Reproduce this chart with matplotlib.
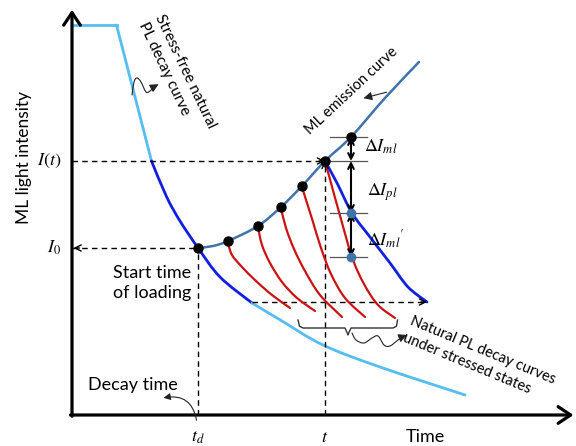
import matplotlib
matplotlib.use("Agg")
import matplotlib.pyplot as plt
from matplotlib.path import Path
from matplotlib.patches import PathPatch
import numpy as np

plt.rcParams['mathtext.fontset'] = 'stix'

# ---------------- data (arbitrary units: time, intensity) ----------------
# stress-free natural PL decay curve
decay_t = [0.0, 8.9, 12.4, 15.9, 18.9, 21.6, 25.2, 29.6, 36.0, 41.6, 50.2, 61.6, 78.6]
decay_I = [97.5, 97.5, 80.5, 63.5, 54.6, 48.5, 41.8, 34.5, 28.0, 23.8, 17.5, 12.0, 5.0]
dark_start, dark_end = 3, 8          # indices of the darker (observed) section

# ML emission curve
ml_t = [25.2, 28.2, 31.2, 37.2, 41.8, 46.0, 50.6, 55.8, 62.6, 69.4]
ml_I = [41.75, 42.25, 43.5, 47.25, 52.0, 57.25, 63.5, 69.5, 79.25, 88.25]
ml_dots = [0, 2, 3, 4, 5, 6, 7]      # indices with black markers

# natural PL decay curves under stressed states (red)
red_t = [
    [31.2, 32.0, 34.0, 36.8, 40.0, 43.6],
    [37.2, 38.0, 39.6, 42.0, 45.0, 48.6],
    [41.8, 42.8, 44.4, 46.6, 49.6, 54.0],
    [46.0, 47.0, 48.2, 49.8, 51.8, 54.6, 58.6],
    [50.6, 51.8, 53.4, 56.0, 58.4, 61.2, 64.6],
]
red_I = [
    [43.0, 40.0, 37.0, 33.5, 30.0, 26.75],
    [47.0, 42.5, 38.0, 33.25, 29.25, 26.0],
    [51.75, 46.75, 41.5, 36.0, 30.0, 24.5],
    [57.0, 53.0, 48.25, 41.75, 35.25, 29.25, 24.5],
    [63.5, 58.0, 50.75, 39.5, 32.75, 27.5, 24.25],
]

# shifted decay curve starting at time t (blue)
blue_t = [50.6, 53.0, 56.0, 59.6, 63.6, 67.2, 71.0]
blue_I = [63.5, 58.0, 50.5, 44.5, 38.0, 32.0, 28.25]

t_d, I_0 = 25.2, 41.75
t_now, I_t = 50.6, 63.5
I_end = 28.25
levels = [69.5, 63.5, 50.5, 39.5]    # I(t)+dI_ml, I(t), I(t)-dI_pl, ... -dI_ml'
meas_t = 55.8

# ---------------- colours ----------------
LIGHT = '#55bdf2'
DARK = '#1020e0'
STEEL = '#4073aa'
RED = '#cc1212'


def smooth(ax, xs, ys, **kw):
    """Draw a smooth curve through the given points (Catmull-Rom as Bezier path)."""
    p = np.column_stack([xs, ys]).astype(float)
    n = len(p)
    verts = [p[0]]
    codes = [Path.MOVETO]
    for i in range(n - 1):
        p0 = p[i - 1] if i > 0 else p[i]
        p3 = p[i + 2] if i + 2 < n else p[i + 1]
        c1 = p[i] + (p[i + 1] - p0) / 6.0
        c2 = p[i + 1] - (p3 - p[i]) / 6.0
        verts += [c1, c2, p[i + 1]]
        codes += [Path.CURVE4] * 3
    patch = PathPatch(Path(verts, codes), fill=False, capstyle='round', joinstyle='round', **kw)
    ax.add_patch(patch)


fig = plt.figure(figsize=(5.76, 4.46), dpi=100)
ax = fig.add_axes([0, 0, 1, 1])
ax.set_xlim(-14.4, 100.8)
ax.set_ylim(-7.75, 103.75)
ax.axis('off')

# axes with arrows
arrow_kw = dict(arrowstyle='->,head_length=0.45,head_width=0.3', lw=2.3, color='black',
                shrinkA=0, shrinkB=0, mutation_scale=20)
ax.annotate('', xy=(0, 101.3), xytext=(0, -0.3), arrowprops=arrow_kw)
ax.annotate('', xy=(100.3, 0), xytext=(-0.3, 0), arrowprops=arrow_kw)

# stress-free decay curve
ax.plot(decay_t[:2], decay_I[:2], color=LIGHT, lw=2)
smooth(ax, decay_t[1:dark_start + 1], decay_I[1:dark_start + 1], edgecolor=LIGHT, lw=2)
smooth(ax, decay_t[dark_start:dark_end + 1], decay_I[dark_start:dark_end + 1], edgecolor=DARK, lw=2)
smooth(ax, decay_t[dark_end:], decay_I[dark_end:], edgecolor=LIGHT, lw=2)

# red curves
for xs, ys in zip(red_t, red_I):
    smooth(ax, xs, ys, edgecolor=RED, lw=1.6, zorder=3)

# blue curve
smooth(ax, blue_t, blue_I, edgecolor=DARK, lw=2, zorder=3)

# dashed guide lines
dash = dict(color='black', lw=1.0, ls=(0, (4, 3)), zorder=2)
ax.plot([0, t_now], [I_t, I_t], **dash)
ax.plot([t_now, t_now], [0, I_t], **dash)
ax.plot([0, t_d], [I_0, I_0], **dash)
ax.plot([t_d, t_d], [0, I_0], **dash)
ax.plot([decay_t[dark_end], blue_t[-1]], [I_end, I_end], **dash)

head = dict(arrowstyle='->', lw=1.0, color='black', shrinkA=0, shrinkB=0, mutation_scale=11)
ax.annotate('', xy=(t_now, I_t), xytext=(t_now - 1.2, I_t), arrowprops=head)
ax.annotate('', xy=(t_now, I_t), xytext=(t_now, I_t - 1.5), arrowprops=head)
ax.annotate('', xy=(0.3, I_0), xytext=(1.5, I_0), arrowprops=head)
ax.annotate('', xy=(blue_t[-1], I_end), xytext=(blue_t[-1] - 1.2, I_end), arrowprops=head)

# ML emission curve
smooth(ax, ml_t, ml_I, edgecolor=STEEL, lw=1.8, zorder=4)
ax.plot([ml_t[i] for i in ml_dots], [ml_I[i] for i in ml_dots], 'o', color='black', ms=6.5, zorder=6)

# measurement levels
for lv in levels:
    ax.plot([meas_t - 4.2, meas_t + 3.2], [lv, lv], color='#555555', lw=0.9, zorder=4)
ax.plot([meas_t, meas_t], [levels[2], levels[3]], 'o', color=STEEL, ms=6, zorder=6)
dbl = dict(arrowstyle='<->', lw=1.5, color='black', shrinkA=0, shrinkB=0, mutation_scale=10)
for a, b in zip(levels[:-1], levels[1:]):
    ax.annotate('', xy=(meas_t, b), xytext=(meas_t, a), arrowprops=dbl, zorder=5)

ax.text(58.5, 67.0, r'$\Delta I_{ml}$', fontsize=13, ha='left', va='center')
ax.text(59.0, 55.8, r'$\Delta I_{pl}$', fontsize=13, ha='left', va='center')
ax.text(59.0, 43.8, r"$\Delta I_{ml}{}'$", fontsize=13, ha='left', va='center')

# axis labels / ticks
sans = 'Lato'
ax.text(-9.6, 64.5, 'ML light intensity', rotation=90, fontsize=12.5, family=sans,
        ha='center', va='center')
ax.text(-2.2, I_t, r'$I(t)$', fontsize=13, ha='right', va='center')
ax.text(-2.2, I_0, r'$I_0$', fontsize=13, ha='right', va='center')
ax.text(t_d, -5.6, r'$t_d$', fontsize=13, ha='center', va='center')
ax.text(t_now, -5.6, r'$t$', fontsize=13, ha='center', va='center')
ax.text(70.6, -5.6, 'Time', fontsize=13, family=sans, ha='center', va='center')

ax.text(23.8, 33.0, 'Start time\nof loading', fontsize=13, family=sans, ha='right', va='center',
        multialignment='right', linespacing=1.35)
ax.text(12.2, 7.4, 'Decay time', fontsize=13, family=sans, ha='center', va='center')
ax.annotate('', xy=(18.3, 4.3), xytext=(24.9, -1.3),
            arrowprops=dict(arrowstyle='-|>,head_length=0.4,head_width=0.2', lw=0.8, color='#222222',
                            connectionstyle='angle3,angleA=100,angleB=10', shrinkA=0, shrinkB=0,
                            mutation_scale=10))

ax.text(21.0, 85.0, 'Stress-free natural\nPL decay curve', fontsize=11, family=sans, rotation=-64.6,
        rotation_mode='anchor', ha='center', va='center', multialignment='left', linespacing=1.4)
sq_t = [12.0, 12.4, 13.0, 13.8, 14.8, 15.6, 16.6]
sq_I = [80.0, 83.25, 84.25, 83.25, 80.75, 81.0, 82.2]
smooth(ax, sq_t, sq_I, edgecolor='#222222', lw=0.8)
ax.annotate('', xy=(17.3, 82.7), xytext=(sq_t[-1], sq_I[-1]),
            arrowprops=dict(arrowstyle='-|>,head_length=0.5,head_width=0.25', lw=0.8, color='#222222',
                            shrinkA=0, shrinkB=0, mutation_scale=10))

ax.text(55.9, 81.0, 'ML emission curve', fontsize=10.5, family=sans, rotation=43,
        rotation_mode='anchor', ha='center', va='center')
ax.annotate('', xy=(58.3, 79.2), xytext=(62.9, 80.7),
            arrowprops=dict(arrowstyle='-|>,head_length=0.5,head_width=0.25', lw=0.8, color='#222222',
                            shrinkA=0, shrinkB=0, mutation_scale=10))

ax.text(81.5, 14.0, 'Natural PL decay curves\nunder stressed states', fontsize=10.5, family=sans,
        rotation=-22.5, rotation_mode='anchor', ha='center', va='center', multialignment='left',
        linespacing=1.4)
br_left_t = [45.2, 45.5, 46.2, 54.6, 55.2]
br_left_I = [23.75, 22.2, 21.75, 21.75, 20.1]
br_right_t = [55.2, 55.8, 64.2, 64.9, 65.1]
br_right_I = [20.1, 21.75, 21.75, 22.2, 23.75]
ax.plot(br_left_t, br_left_I, color='#333333', lw=1.0)
ax.plot(br_right_t, br_right_I, color='#333333', lw=1.0)
wv_t = [56.0, 56.8, 58.4, 60.0, 61.2, 62.4, 63.6, 65.2, 66.2]
wv_I = [20.5, 18.75, 18.0, 19.25, 19.75, 17.5, 17.25, 18.75, 19.6]
smooth(ax, wv_t, wv_I, edgecolor='#222222', lw=0.8)
ax.annotate('', xy=(67.0, 20.0), xytext=(wv_t[-1], wv_I[-1]),
            arrowprops=dict(arrowstyle='-|>,head_length=0.5,head_width=0.25', lw=0.8, color='#222222',
                            shrinkA=0, shrinkB=0, mutation_scale=10))

fig.savefig('out.png', dpi=100)
